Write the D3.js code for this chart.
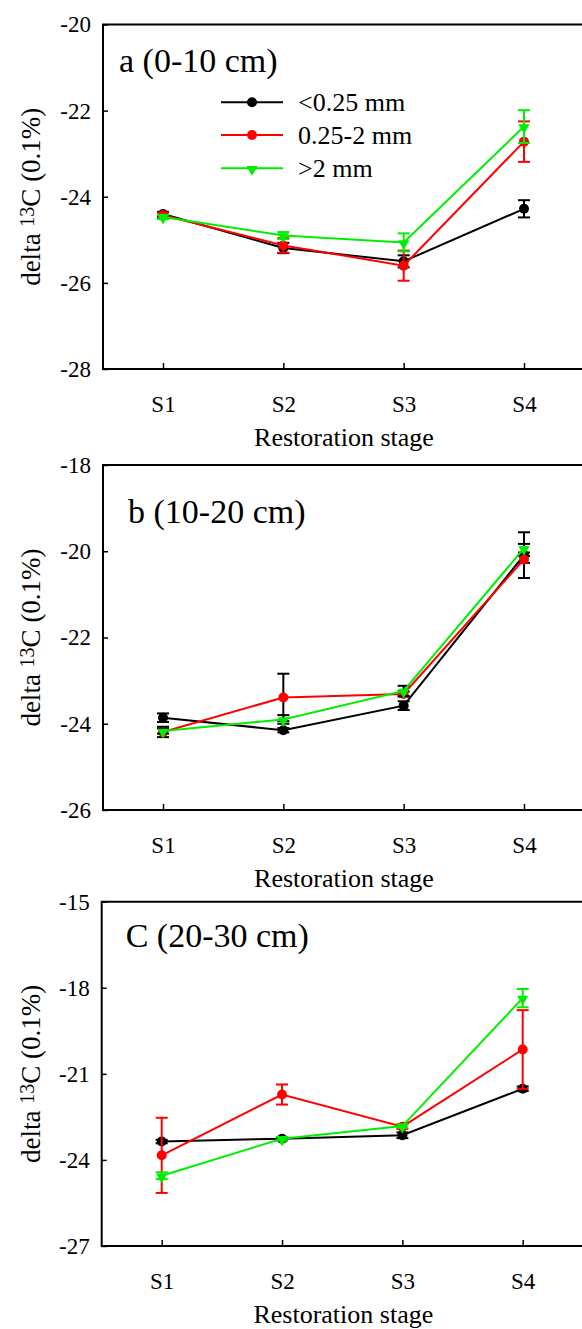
<!DOCTYPE html>
<meta charset="utf-8">
<style>
body, html {
  padding: 0;
  margin: 0;
  background: #fff;
}
svg, svg text {
  font-family: "Times New Roman", "Liberation Serif", serif;
}
.tick text {
  font-size: 23px;
  fill: #000;
}
.tick line {
  stroke: #000;
  stroke-width: 1.5px;
}
</style>
<body>
<script src="https://d3js.org/d3.v7.min.js"></script>
<script>

var width = 582,
    height = 1329

var stages = ["S1", "S2", "S3", "S4"]
var sizeClasses = ["<0.25 mm", "0.25-2 mm", ">2 mm"]
var colors = ["#000000", "#ff0000", "#00ee00"]

// panel a (0-10 cm)
var aFine = [-24.40, -25.19, -25.50, -24.28]
var aFineErr = [0.05, 0.12, 0.14, 0.20]
var aMid = [-24.43, -25.13, -25.60, -22.72]
var aMidErr = [0.06, 0.17, 0.35, 0.47]
var aCoarse = [-24.47, -24.90, -25.06, -22.37]
var aCoarseErr = [0.05, 0.08, 0.21, 0.38]
var aTicks = [-28, -26, -24, -22, -20]

// panel b (10-20 cm)
var bFine = [-23.86, -24.15, -23.58, -20.09]
var bFineErr = [0.10, 0.05, 0.10, 0.53]
var bMid = [-24.19, -23.39, -23.31, -20.19]
var bMidErr = [0.12, 0.55, 0.06, 0.08]
var bCoarse = [-24.17, -23.90, -23.24, -19.93]
var bCoarseErr = [0.06, 0.10, 0.12, 0.10]
var bTicks = [-26, -24, -22, -20, -18]

// panel c (20-30 cm)
var cFine = [-23.36, -23.26, -23.14, -21.52]
var cFineErr = [0.06, 0.06, 0.10, 0.08]
var cMid = [-23.84, -21.72, -22.84, -20.15]
var cMidErr = [1.31, 0.35, 0.08, 1.37]
var cCoarse = [-24.55, -23.26, -22.82, -18.36]
var cCoarseErr = [0.12, 0.06, 0.06, 0.32]
var cTicks = [-27, -24, -21, -18, -15]

var panels = [
  {title: "a (0-10 cm)", top: 24.5, bottom: 369, left: 103, titleX: 16, titleY: 47.5,
   domain: [-28, -20], ticks: aTicks, legend: true, blackErr: false,
   series: [[aFine, aFineErr], [aMid, aMidErr], [aCoarse, aCoarseErr]]},
  {title: "b (10-20 cm)", top: 465, bottom: 810, left: 103, titleX: 25, titleY: 57.5,
   domain: [-26, -18], ticks: bTicks, legend: false, blackErr: true,
   series: [[bFine, bFineErr], [bMid, bMidErr], [bCoarse, bCoarseErr]]},
  {title: "C (20-30 cm)", top: 901.7, bottom: 1246, left: 101.7, titleX: 24, titleY: 45,
   domain: [-27, -15], ticks: cTicks, legend: false, blackErr: false,
   series: [[cFine, cFineErr], [cMid, cMidErr], [cCoarse, cCoarseErr]]}
]

var svg = d3.select("body").append("svg")
    .attr("width", width)
    .attr("height", height)

svg.append("rect")
    .attr("width", width)
    .attr("height", height)
    .attr("fill", "#fff")

var triangle = d3.symbol().type(d3.symbolTriangle).size(55)

function marker (g, i, cx, cy) {
  if (i < 2) {
    g.append("circle")
        .attr("cx", cx).attr("cy", cy).attr("r", 5)
        .attr("fill", colors[i])
  } else {
    g.append("path")
        .attr("d", triangle())
        .attr("transform", "translate(" + cx + "," + (cy + 1) + ") rotate(180)")
        .attr("fill", colors[i])
  }
}

function plain (a) {
  a.attr("font-family", null).attr("font-size", null)
  a.select(".domain").remove()
}

panels.forEach(function (p) {
  var right = 585

  var x = d3.scalePoint()
      .domain(stages)
      .range([p.left + 60, p.left + 421])

  var y = d3.scaleLinear()
      .domain(p.domain)
      .range([p.bottom, p.top])

  var g = svg.append("g")

  // axes with inside ticks
  g.append("g")
      .attr("transform", "translate(" + p.left + ",0)")
      .call(d3.axisLeft(y).tickValues(p.ticks).tickSizeInner(-5).tickSizeOuter(0)
        .tickPadding(12).tickFormat(function (d) { return String(d) }))
      .call(plain)

  g.append("g")
      .attr("transform", "translate(0," + p.bottom + ")")
      .call(d3.axisBottom(x).tickSizeInner(-6).tickSizeOuter(0).tickPadding(27))
      .call(plain)

  // frame (right edge runs off the picture)
  g.append("path")
      .attr("d", "M" + right + "," + p.top + "H" + p.left + "V" + p.bottom + "H" + right)
      .attr("fill", "none")
      .attr("stroke", "#000")
      .attr("stroke-width", 2)

  // axis titles
  var yl = g.append("text")
      .attr("transform", "translate(40," + ((p.top + p.bottom) / 2) + ") rotate(-90)")
      .attr("text-anchor", "middle")
      .attr("font-size", 27)
  yl.append("tspan").text("delta ")
  yl.append("tspan").attr("font-size", 20).attr("dy", -6).text("13")
  yl.append("tspan").attr("dy", 6).text("C (0.1%)")

  g.append("text")
      .attr("x", (p.left + right) / 2)
      .attr("y", p.bottom + 77)
      .attr("text-anchor", "middle")
      .attr("font-size", 26)
      .text("Restoration stage")

  g.append("text")
      .attr("x", p.left + p.titleX)
      .attr("y", p.top + p.titleY)
      .attr("font-size", 34)
      .text(p.title)

  // series: error bars, line, markers
  p.series.forEach(function (s, i) {
    var vals = s[0], errs = s[1]
    var errColor = p.blackErr ? "#000" : colors[i]
    var eg = g.append("g").attr("stroke", errColor).attr("stroke-width", 2)
    vals.forEach(function (v, k) {
      var cx = x(stages[k])
      var hi = y(v + errs[k]), lo = y(v - errs[k])
      eg.append("line").attr("x1", cx).attr("x2", cx).attr("y1", hi).attr("y2", lo)
      eg.append("line").attr("x1", cx - 6).attr("x2", cx + 6).attr("y1", hi).attr("y2", hi)
      eg.append("line").attr("x1", cx - 6).attr("x2", cx + 6).attr("y1", lo).attr("y2", lo)
    })

    var line = d3.line()
        .x(function (d, k) { return x(stages[k]) })
        .y(function (d) { return y(d) })

    g.append("path")
        .datum(vals)
        .attr("d", line)
        .attr("fill", "none")
        .attr("stroke", colors[i])
        .attr("stroke-width", 2)

    vals.forEach(function (v, k) {
      marker(g, i, x(stages[k]), y(v))
    })
  })

  if (p.legend) {
    var rows = [102.3, 135, 168.3]
    sizeClasses.forEach(function (name, i) {
      var lg = g.append("g")
      lg.append("line")
          .attr("x1", 221).attr("x2", 283)
          .attr("y1", rows[i]).attr("y2", rows[i])
          .attr("stroke", colors[i])
          .attr("stroke-width", 2)
      marker(lg, i, 252, rows[i])
      lg.append("text")
          .attr("x", 298)
          .attr("y", rows[i] + 9)
          .attr("font-size", 26)
          .text(name)
    })
  }
})

</script>
</body>
